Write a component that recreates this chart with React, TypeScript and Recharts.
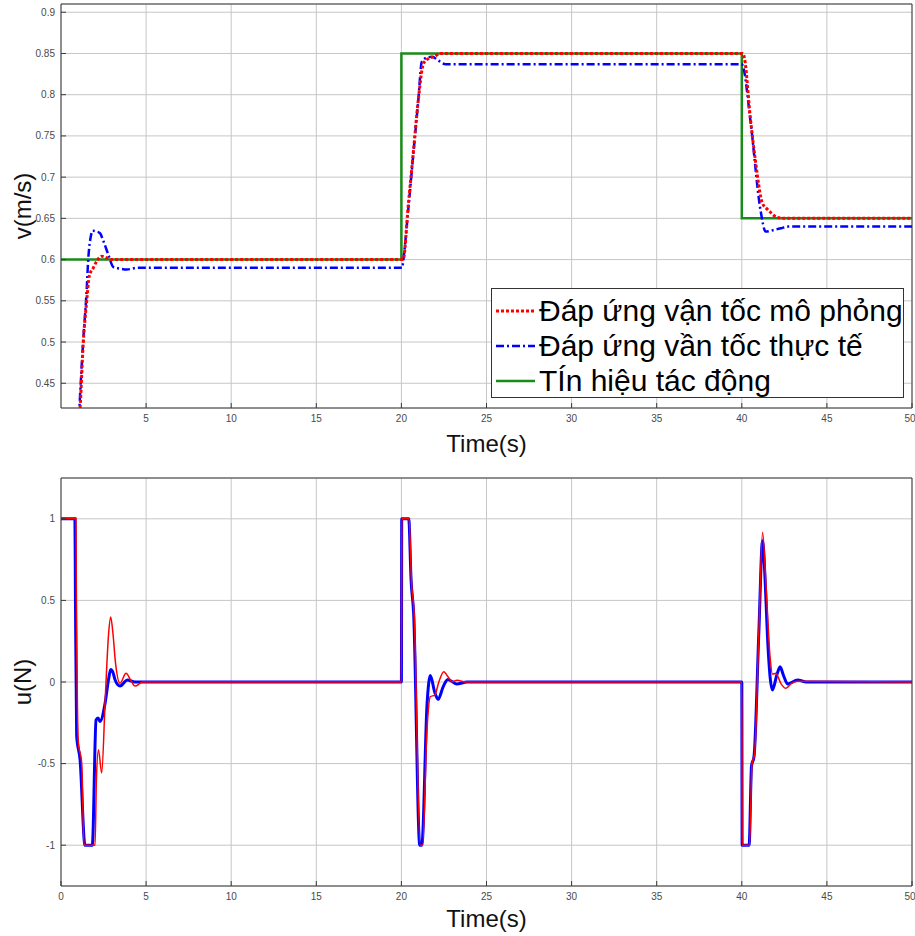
import React from "react";
import { LineChart, Line, XAxis, YAxis, CartesianGrid, ReferenceLine, Legend } from "recharts";

// time ticks and value ticks
const timeTicksV = [5, 10, 15, 20, 25, 30, 35, 40, 45, 50];
const timeTicksU = [0, 5, 10, 15, 20, 25, 30, 35, 40, 45, 50];
const vTicks = [0.45, 0.5, 0.55, 0.6, 0.65, 0.7, 0.75, 0.8, 0.85, 0.9];
const uTicks = [-1, -0.5, 0, 0.5, 1];

// top chart: reference (step) signal
const refT = [0, 20, 20, 40, 40, 50];
const refV = [0.6, 0.6, 0.85, 0.85, 0.65, 0.65];

// top chart: simulated velocity response
const simT = [1.0, 1.12, 1.31, 1.51, 1.66, 1.9, 2.1, 2.39, 2.7, 3.0, 20.0, 20.1, 20.4, 20.7, 21.0, 21.3, 21.6, 21.9, 22.3, 40.05, 40.15, 40.5, 40.8, 41.2, 41.5, 41.7, 42.1, 42.5, 50];
const simV = [0.39, 0.42, 0.5, 0.55, 0.58, 0.59, 0.598, 0.604, 0.602, 0.6, 0.6, 0.6, 0.665, 0.73, 0.795, 0.838, 0.844, 0.846, 0.85, 0.85, 0.845, 0.772, 0.72, 0.669, 0.661, 0.657, 0.651, 0.65, 0.65];

// top chart: measured velocity response
const actT = [1.0, 1.08, 1.3, 1.5, 1.6, 1.75, 1.86, 2.1, 2.29, 2.5, 2.78, 3.08, 3.5, 3.86, 4.5, 20.05, 20.1, 20.4, 20.7, 21.0, 21.2, 21.5, 21.8, 22.2, 22.6, 40.0, 40.06, 40.5, 41.1, 41.4, 41.9, 42.3, 42.7, 50];
const actV = [0.39, 0.42, 0.5, 0.56, 0.6, 0.628, 0.635, 0.634, 0.632, 0.622, 0.606, 0.591, 0.589, 0.588, 0.59, 0.59, 0.597, 0.66, 0.728, 0.795, 0.84, 0.845, 0.846, 0.841, 0.837, 0.837, 0.835, 0.77, 0.66, 0.634, 0.636, 0.638, 0.64, 0.64];

// bottom chart: control effort, simulation (red)
const uSimT = [0, 0.88, 0.9, 1.02, 1.22, 1.35, 2.0, 2.08, 2.2, 2.39, 2.6, 2.8, 2.92, 3.05, 3.2, 3.47, 3.82, 4.1, 4.35, 4.8, 20, 20.02, 20.45, 20.6, 20.75, 21.1, 21.25, 21.5, 21.7, 21.96, 22.2, 22.49, 22.75, 22.98, 23.27, 23.8, 40, 40.02, 40.45, 40.6, 40.75, 41.0, 41.22, 41.42, 41.66, 41.8, 42.0, 42.3, 42.59, 42.9, 43.28, 50];
const uSimV = [1, 1, 0.6, -0.37, -0.5, -1, -1, -0.6, -0.415, -0.557, -0.1, 0.3, 0.398, 0.3, 0.12, -0.008, 0.053, 0.01, -0.025, 0, 0, 1, 1, 0.6, 0.419, -1, -1, -0.3, -0.09, -0.08, 0.0, 0.063, 0.03, 0.002, 0.01, 0, 0, -1, -1, -0.5, -0.44, 0.3, 0.917, 0.6, 0.154, 0.049, 0.053, -0.01, -0.039, -0.01, 0.005, 0];

// bottom chart: control effort, measured (blue)
const uActT = [0, 0.82, 0.85, 0.92, 1.12, 1.41, 1.84, 2.06, 2.18, 2.29, 2.59, 2.8, 2.92, 3.05, 3.18, 3.47, 3.9, 4.35, 20, 20.02, 20.43, 20.57, 20.72, 21.08, 21.2, 21.51, 21.7, 21.95, 22.16, 22.45, 22.73, 23.24, 23.86, 40, 40.02, 40.43, 40.57, 40.72, 41.0, 41.22, 41.38, 41.51, 41.8, 42.05, 42.25, 42.45, 42.69, 43.28, 43.8, 50];
const uActV = [1, 1, 0.5, -0.33, -0.476, -1, -1, -0.232, -0.22, -0.242, -0.13, 0.02, 0.077, 0.06, 0.012, -0.025, 0.012, 0, 0, 1, 1, 0.622, 0.419, -1, -1, -0.13, 0.04, -0.06, -0.106, -0.03, 0.016, -0.012, 0, 0, -1, -1, -0.516, -0.455, 0.3, 0.866, 0.6, 0.276, -0.049, 0.04, 0.093, 0.04, -0.012, 0.012, 0, 0];

const legendItems = [
  { name: "Đáp ứng vận tốc mô phỏng", color: "#ff0000", dash: "3 2", width: 3 },
  { name: "Đáp ứng vần tốc thực tế", color: "#0000ff", dash: "8 3 2 3", width: 2.5 },
  { name: "TÍn hiệu tác động", color: "#1a8a1a", dash: undefined, width: 2.5 },
];

const toPts = (t: number[], v: number[]) => t.map((x, i) => ({ t: x, v: v[i] }));

const FONT = "'Liberation Sans', Arial, sans-serif";
const GRID = "#c6c6c6";
const FRAME = "#3a3a3a";
const tickStyle = { fontSize: 10, fill: "#4a4a4a", fontFamily: FONT };

const YLabel = (text: string) => (props: any) => {
  const vb = props.viewBox || {};
  return (
    <text
      x={vb.x + 22}
      y={vb.y + vb.height / 2}
      transform={`rotate(-90, ${vb.x + 22}, ${vb.y + vb.height / 2})`}
      textAnchor="middle"
      dominantBaseline="central"
      fontSize={24}
      fontFamily={FONT}
      fill="#111"
    >
      {text}
    </text>
  );
};

const XLabel = (dy: number) => (props: any) => {
  const vb = props.viewBox || {};
  return (
    <text
      x={vb.x + vb.width / 2}
      y={vb.y + dy}
      textAnchor="middle"
      dominantBaseline="central"
      fontSize={24}
      fontFamily={FONT}
      fill="#111"
    >
      Time(s)
    </text>
  );
};

const LegendBox = () => (
  <div
    style={{
      width: 413,
      height: 110,
      boxSizing: "border-box",
      border: "1px solid #333",
      background: "#fff",
      paddingTop: 4,
      fontFamily: FONT,
    }}
  >
    {legendItems.map((it) => (
      <div key={it.name} style={{ display: "flex", alignItems: "center", height: 35 }}>
        <svg width={44} height={10} style={{ marginLeft: 3 }}>
          <line x1={1} y1={5} x2={40} y2={5} stroke={it.color} strokeWidth={it.width} strokeDasharray={it.dash} />
        </svg>
        <span style={{ fontSize: 30, color: "#000", lineHeight: "35px", whiteSpace: "nowrap" }}>{it.name}</span>
      </div>
    ))}
  </div>
);

function VelocityChart() {
  return (
    <LineChart width={915} height={460} margin={{ top: 4, right: 3, left: 0, bottom: 0 }}>
      <CartesianGrid stroke={GRID} strokeWidth={1} />
      <XAxis
        type="number"
        dataKey="t"
        domain={[0, 50]}
        ticks={timeTicksV}
        allowDataOverflow
        height={52}
        tick={tickStyle}
        tickSize={-5}
        tickMargin={12}
        stroke={FRAME}
        label={XLabel(35)}
      />
      <YAxis
        type="number"
        dataKey="v"
        domain={[0.42, 0.91]}
        ticks={vTicks}
        allowDataOverflow
        width={61}
        tick={tickStyle}
        tickSize={-5}
        tickMargin={11}
        stroke={FRAME}
        label={YLabel("v(m/s)")}
      />
      <ReferenceLine x={50} stroke={FRAME} />
      <ReferenceLine y={0.91} stroke={FRAME} />
      <Line data={toPts(refT, refV)} dataKey="v" name={legendItems[2].name} type="linear" stroke="#1a8a1a" strokeWidth={2.5} dot={false} isAnimationActive={false} />
      <Line data={toPts(actT, actV)} dataKey="v" name={legendItems[1].name} type="monotone" stroke="#0000ff" strokeWidth={2.5} strokeDasharray="8 3 2 3" dot={false} isAnimationActive={false} />
      <Line data={toPts(simT, simV)} dataKey="v" name={legendItems[0].name} type="monotone" stroke="#ff0000" strokeWidth={3} strokeDasharray="3 2" dot={false} isAnimationActive={false} />
      <Legend
        layout="vertical"
        align="center"
        verticalAlign="middle"
        content={<LegendBox />}
        wrapperStyle={{ position: "absolute", left: 491, top: 288, width: 413, height: 110 }}
      />
    </LineChart>
  );
}

function ControlChart() {
  return (
    <LineChart width={915} height={466} margin={{ top: 8, right: 3, left: 0, bottom: 0 }}>
      <CartesianGrid stroke={GRID} strokeWidth={1} />
      <XAxis
        type="number"
        dataKey="t"
        domain={[0, 50]}
        ticks={timeTicksU}
        allowDataOverflow
        height={50}
        tick={tickStyle}
        tickSize={-5}
        tickMargin={12}
        stroke={FRAME}
        label={XLabel(32)}
      />
      <YAxis
        type="number"
        dataKey="v"
        domain={[-1.25, 1.25]}
        ticks={uTicks}
        allowDataOverflow
        width={61}
        tick={tickStyle}
        tickSize={-5}
        tickMargin={11}
        stroke={FRAME}
        label={YLabel("u(N)")}
      />
      <ReferenceLine x={50} stroke={FRAME} />
      <ReferenceLine y={1.25} stroke={FRAME} />
      <Line data={toPts(uActT, uActV)} dataKey="v" type="monotone" stroke="#0000ff" strokeWidth={3} dot={false} isAnimationActive={false} />
      <Line data={toPts(uSimT, uSimV)} dataKey="v" type="monotone" stroke="#ff0000" strokeWidth={1.5} dot={false} isAnimationActive={false} />
    </LineChart>
  );
}

export default function App() {
  return (
    <div style={{ position: "absolute", left: 0, top: 0, width: 915, height: 936, background: "#fff" }}>
      <div style={{ position: "absolute", left: 0, top: 0 }}>
        <VelocityChart />
      </div>
      <div style={{ position: "absolute", left: 0, top: 470 }}>
        <ControlChart />
      </div>
    </div>
  );
}
